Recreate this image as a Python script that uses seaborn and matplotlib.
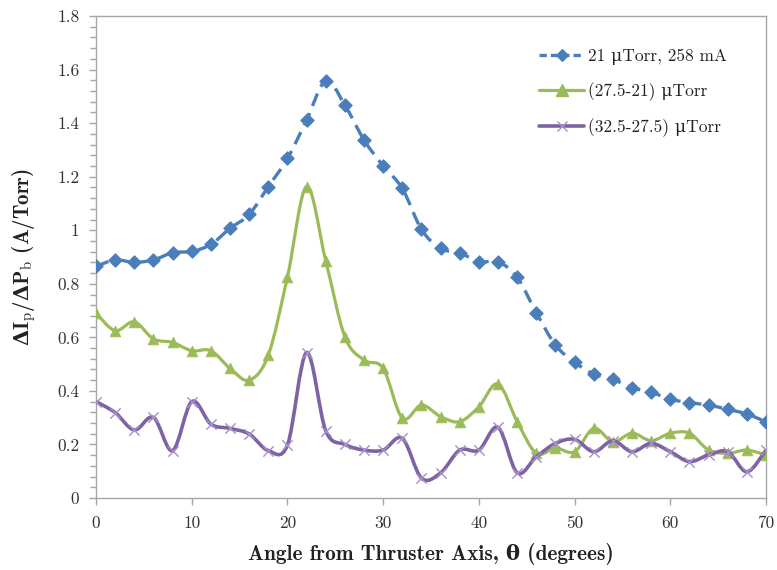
import numpy as np
import pandas as pd
import matplotlib
matplotlib.use("Agg")
import matplotlib.pyplot as plt
import seaborn as sns
from matplotlib.path import Path
from matplotlib.patches import PathPatch
from matplotlib.lines import Line2D
from matplotlib.ticker import MultipleLocator

# ---------------- data ----------------
angle = list(range(0, 72, 2))
series_21 = [0.865, 0.889, 0.880, 0.889, 0.916, 0.921, 0.947, 1.007, 1.059, 1.163,
             1.268, 1.411, 1.558, 1.467, 1.337, 1.240, 1.156, 1.003, 0.932, 0.916,
             0.882, 0.882, 0.824, 0.692, 0.571, 0.507, 0.463, 0.443, 0.412, 0.395,
             0.369, 0.356, 0.347, 0.331, 0.314, 0.284]
series_27 = [0.690, 0.625, 0.658, 0.594, 0.581, 0.550, 0.550, 0.484, 0.440, 0.534,
             0.826, 1.163, 0.886, 0.602, 0.515, 0.484, 0.298, 0.347, 0.304, 0.285,
             0.341, 0.426, 0.285, 0.167, 0.186, 0.173, 0.260, 0.210, 0.242, 0.214,
             0.242, 0.242, 0.179, 0.167, 0.179, 0.160]
series_32 = [0.360, 0.319, 0.254, 0.301, 0.177, 0.360, 0.276, 0.260, 0.239, 0.177,
             0.198, 0.543, 0.251, 0.200, 0.179, 0.179, 0.223, 0.074, 0.094, 0.179,
             0.179, 0.264, 0.094, 0.154, 0.204, 0.219, 0.173, 0.214, 0.173, 0.204,
             0.173, 0.136, 0.161, 0.173, 0.098, 0.179]
labels = ["21 \u03bcTorr, 258 mA", "(27.5-21) \u03bcTorr", "(32.5-27.5) \u03bcTorr"]
x_ticks = [0, 10, 20, 30, 40, 50, 60, 70]
y_ticks = [0, 0.2, 0.4, 0.6, 0.8, 1.0, 1.2, 1.4, 1.6, 1.8]
y_tick_labels = ["0", "0.2", "0.4", "0.6", "0.8", "1", "1.2", "1.4", "1.6", "1.8"]

# ---------------- style ----------------
sns.set_style("white")
plt.rcParams["font.family"] = ["cmr10", "DejaVu Serif"]
plt.rcParams["mathtext.fontset"] = "custom"
plt.rcParams["mathtext.rm"] = "cmr10"
plt.rcParams["mathtext.it"] = "cmmi10"
plt.rcParams["mathtext.bf"] = "DejaVu Serif:bold"
plt.rcParams["axes.unicode_minus"] = False

colors = ["#4a7ebb", "#9bbb59", "#7f62a3"]
x_marker_color = "#a48fc7"


def smooth_path(xs, ys):
    pts = np.column_stack([xs, ys]).astype(float)
    n = len(pts)
    verts = [pts[0]]
    codes = [Path.MOVETO]
    for i in range(n - 1):
        p0 = pts[i - 1] if i > 0 else pts[i]
        p1 = pts[i]
        p2 = pts[i + 1]
        p3 = pts[i + 2] if i + 2 < n else pts[i + 1]
        c1 = p1 + (p2 - p0) / 6.0
        c2 = p2 - (p3 - p1) / 6.0
        verts += [c1, c2, p2]
        codes += [Path.CURVE4] * 3
    return Path(verts, codes)


fig = plt.figure(figsize=(7.77, 5.70), dpi=100)
ax = fig.add_axes([0.1236, 0.1263, 0.8623, 0.8456])

df = pd.DataFrame({"angle": angle, "s21": series_21, "s27": series_27, "s32": series_32})

# lines (smoothed like the original)
ax.add_patch(PathPatch(smooth_path(df["angle"], df["s21"]), fill=False, edgecolor=colors[0],
                       lw=2.4, linestyle=(0, (4, 2.3)), capstyle="butt", zorder=2))
sns.scatterplot(data=df, x="angle", y="s21", ax=ax, marker="D", s=46, color=colors[0],
                edgecolor=colors[0], linewidth=0.8, zorder=3, legend=False)

ax.add_patch(PathPatch(smooth_path(df["angle"], df["s27"]), fill=False, edgecolor=colors[1],
                       lw=2.3, zorder=4))
sns.scatterplot(data=df, x="angle", y="s27", ax=ax, marker="^", s=60, color=colors[1],
                edgecolor=colors[1], linewidth=0.5, zorder=5, legend=False)

ax.add_patch(PathPatch(smooth_path(df["angle"], df["s32"]), fill=False, edgecolor=colors[2],
                       lw=2.6, zorder=6))
sns.scatterplot(data=df, x="angle", y="s32", ax=ax, marker="x", s=55, color=x_marker_color,
                linewidth=1.0, zorder=7, legend=False)

# axes
ax.set_xlim(0, 70)
ax.set_ylim(0, 1.8)
ax.set_xticks(x_ticks)
ax.set_xticklabels([str(t) for t in x_ticks])
ax.set_yticks(y_ticks)
ax.set_yticklabels(y_tick_labels)
ax.yaxis.set_minor_locator(MultipleLocator(0.04))

spine_color = "#a6a6a6"
for sp in ax.spines.values():
    sp.set_visible(True)
    sp.set_color(spine_color)
    sp.set_linewidth(1.0)

ax.tick_params(axis="both", which="both", direction="out", color=spine_color,
               labelcolor="#333333", labelsize=12.5)
ax.tick_params(axis="x", which="major", length=5, width=1.0, pad=8, bottom=True)
ax.tick_params(axis="y", which="major", length=5, width=1.0, pad=7, left=True)
ax.tick_params(axis="y", which="minor", length=4, width=1.0, left=True)

ax.set_xlabel("Angle from Thruster Axis, \u03b8 (degrees)", family=["cmb10", "DejaVu Serif"],
              fontweight="bold", fontsize=15.3, color="#222222", labelpad=8)
ax.set_ylabel("$\\mathbf{\\Delta}$I$_\\mathrm{p}$/$\\mathbf{\\Delta}$P$_\\mathrm{b}$ (A/Torr)",
              family=["cmb10", "DejaVu Serif"],
              fontweight="bold", fontsize=15, color="#222222", labelpad=14)

handles = [
    Line2D([], [], color=colors[0], lw=2.4, linestyle=(0, (2.2, 1.2)), marker="D",
           markersize=6, markeredgewidth=0.8),
    Line2D([], [], color=colors[1], lw=2.3, marker="^", markersize=8),
    Line2D([], [], color=colors[2], lw=2.6, marker="x", markersize=7.5,
           markeredgecolor=x_marker_color, markeredgewidth=1.0),
]
ax.legend(handles, labels, loc="upper left", bbox_to_anchor=(0.638, 0.964), frameon=False,
          fontsize=12.5, handlelength=2.6, handletextpad=0.2, labelspacing=0.98,
          labelcolor="#222222")

fig.savefig("out.png", dpi=100)
